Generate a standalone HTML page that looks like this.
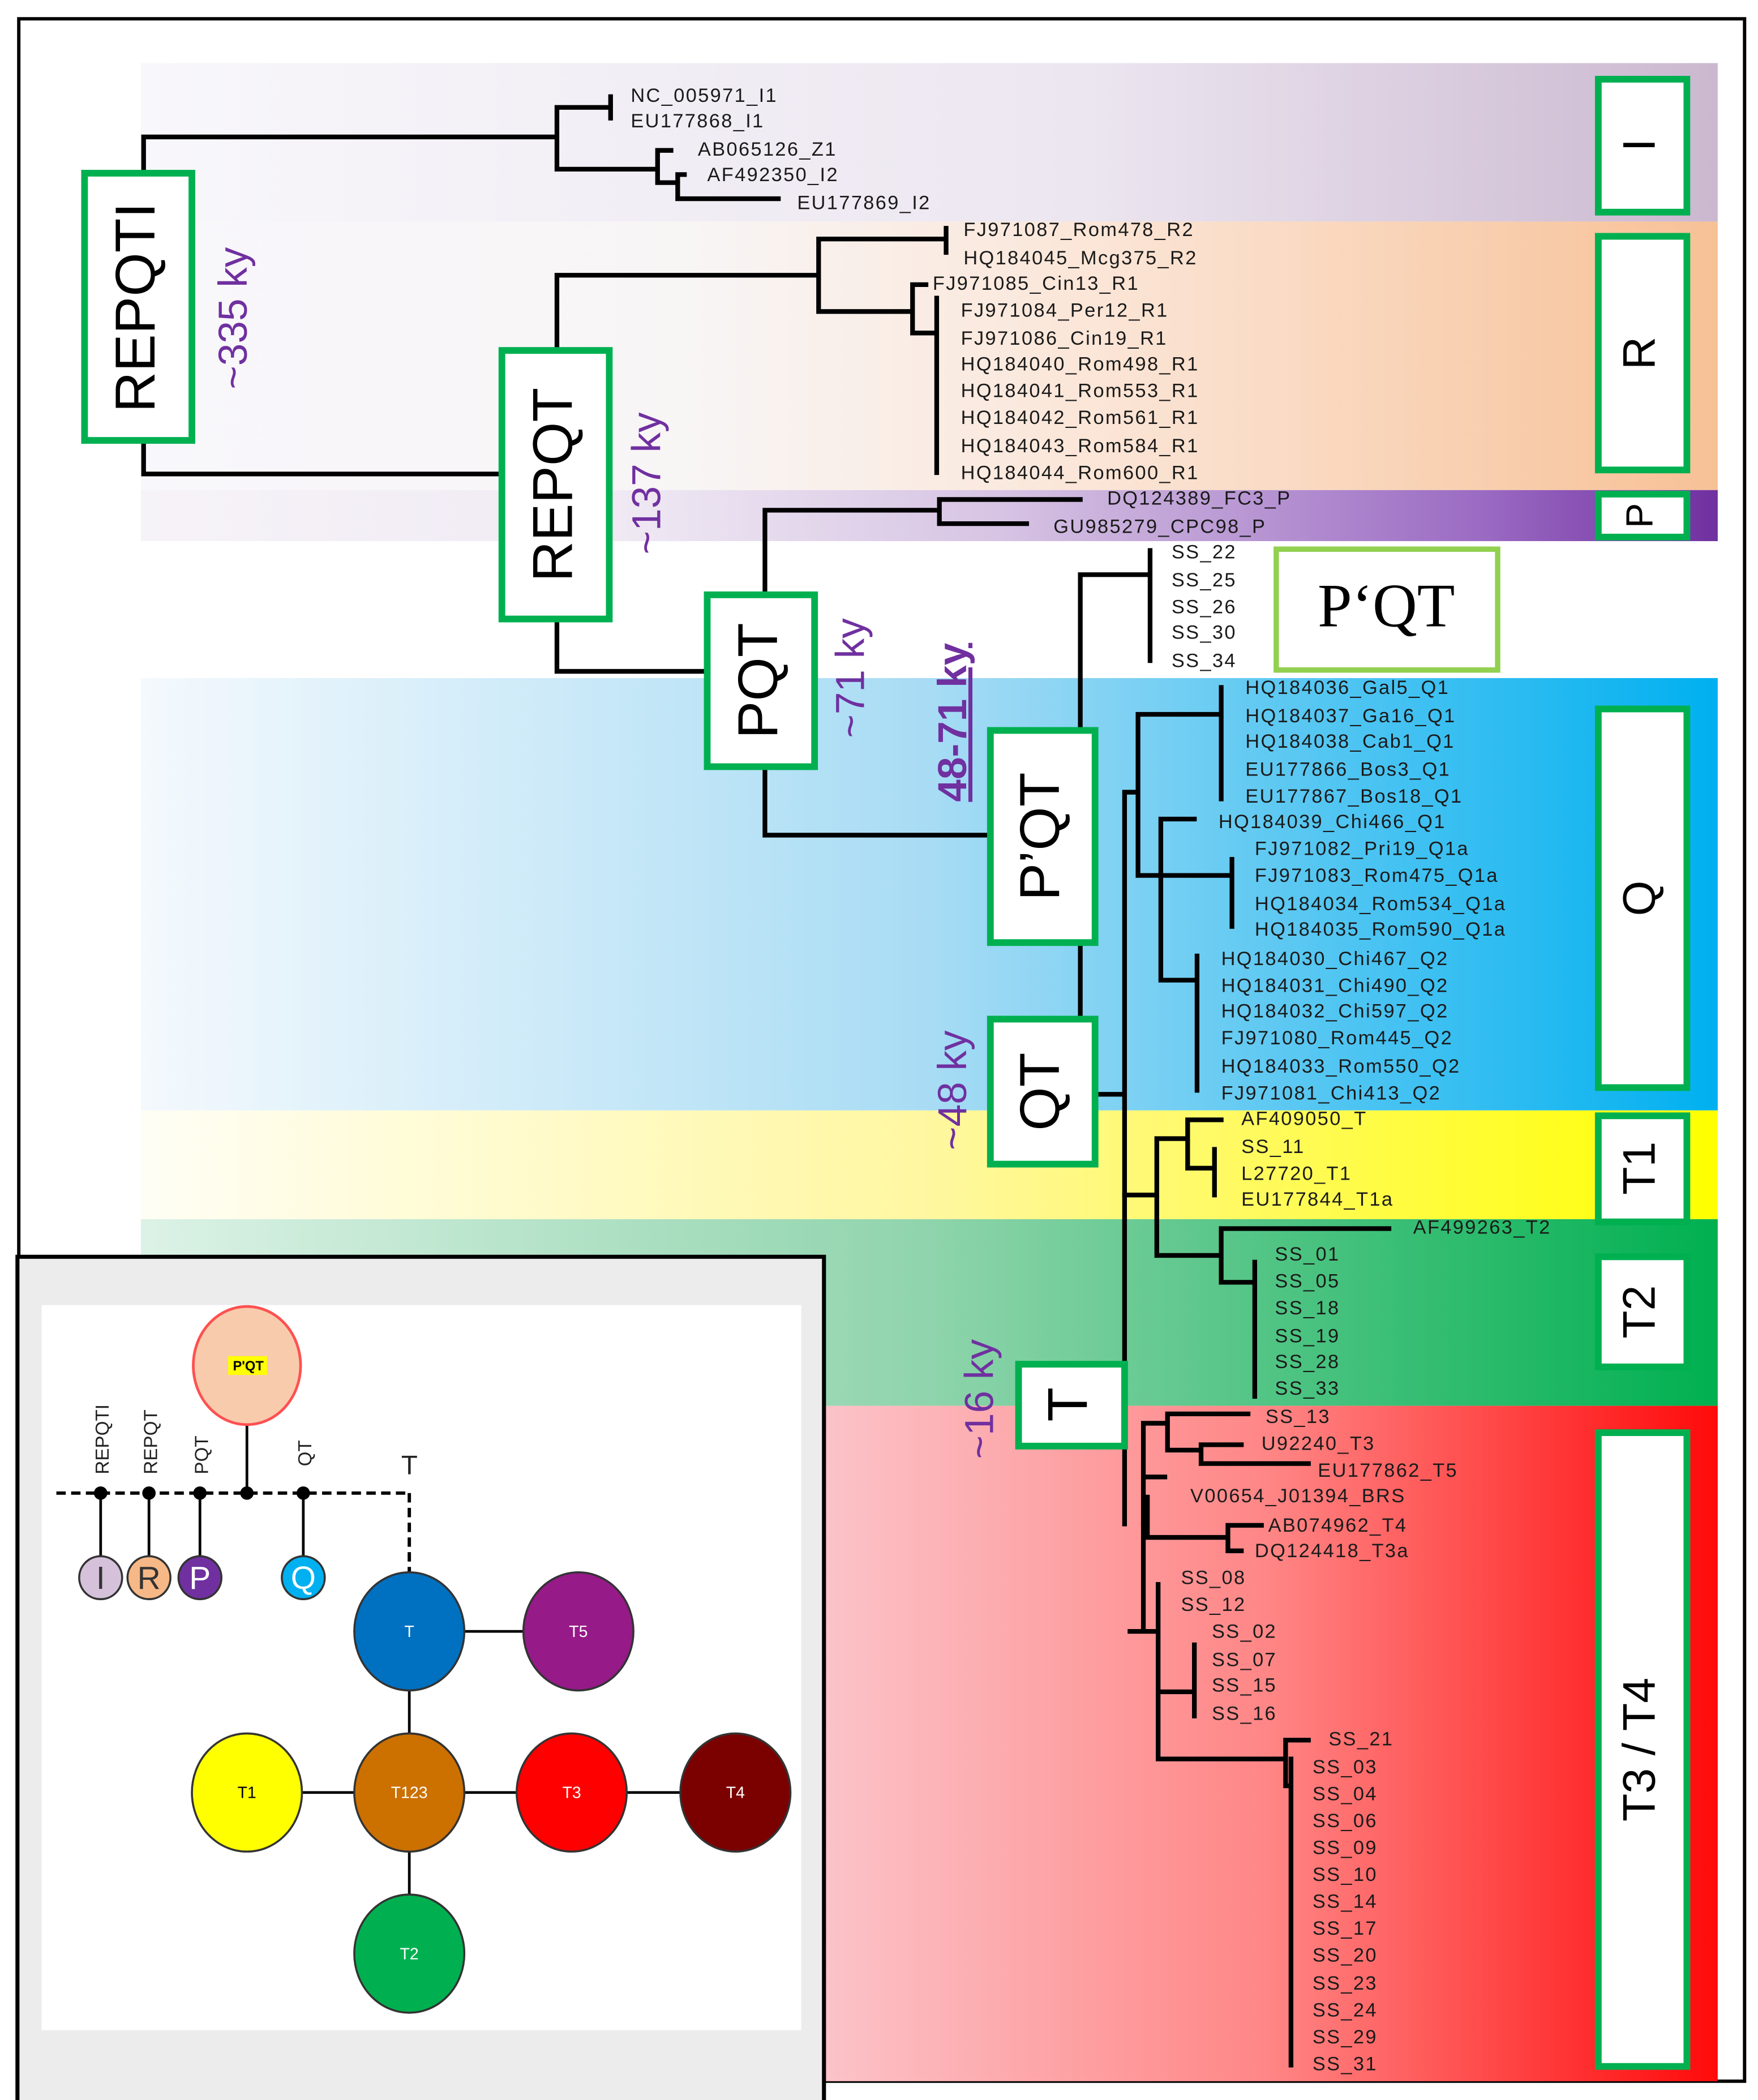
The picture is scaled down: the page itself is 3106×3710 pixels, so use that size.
<!DOCTYPE html>
<html><head><meta charset="utf-8"><style>
html,body{margin:0;padding:0;background:#fff;}
svg{display:block;}
.t{font-family:"Liberation Sans",sans-serif;font-size:14.5px;fill:#1a1a1a;letter-spacing:1px;dominant-baseline:middle;}
.b{font-family:"Liberation Sans",sans-serif;fill:#000;text-anchor:middle;dominant-baseline:middle;}
.k{font-family:"Liberation Sans",sans-serif;fill:#7030a0;text-anchor:middle;dominant-baseline:middle;font-size:30px;}
.ln{stroke:#000;stroke-width:3.5;fill:none;stroke-linecap:square;}
.gb{fill:#fff;stroke:#00b050;stroke-width:5;}
</style></head><body>
<svg width="3106" height="3710" viewBox="0 0 1310 1564" preserveAspectRatio="none" xmlns="http://www.w3.org/2000/svg">
<defs>
<linearGradient id="gI" x1="0" x2="1"><stop offset="0" stop-color="#f8f7fb"/><stop offset="0.6" stop-color="#ece6f0"/><stop offset="1" stop-color="#cbb8d0"/></linearGradient>
<linearGradient id="gR" x1="0" x2="1"><stop offset="0" stop-color="#f8f7fb"/><stop offset="0.35" stop-color="#f8f5f5"/><stop offset="0.6" stop-color="#fbe6d8"/><stop offset="1" stop-color="#f7c196"/></linearGradient>
<linearGradient id="gP" x1="0" x2="1"><stop offset="0" stop-color="#f6f3f8"/><stop offset="0.3" stop-color="#f0eaf4"/><stop offset="0.55" stop-color="#d6c3e3"/><stop offset="0.85" stop-color="#9b6bc3"/><stop offset="1" stop-color="#7030a0"/></linearGradient>
<linearGradient id="gQ" x1="0" x2="1"><stop offset="0" stop-color="#f4f9fd"/><stop offset="0.5" stop-color="#a8dcf4"/><stop offset="1" stop-color="#00b0f0"/></linearGradient>
<linearGradient id="gT1" x1="0" x2="1"><stop offset="0" stop-color="#fffef5"/><stop offset="0.5" stop-color="#fff7a0"/><stop offset="1" stop-color="#ffff00"/></linearGradient>
<linearGradient id="gT2" x1="0" x2="1"><stop offset="0" stop-color="#dcf2e6"/><stop offset="0.5" stop-color="#8fd4ac"/><stop offset="1" stop-color="#00b050"/></linearGradient>
<linearGradient id="gT3" x1="0" x2="1"><stop offset="0" stop-color="#fbc3c8"/><stop offset="0.5" stop-color="#ff8585"/><stop offset="1" stop-color="#ff0a0a"/></linearGradient>
</defs>
<rect x="14" y="14" width="1286" height="1536" fill="#fff" stroke="#000" stroke-width="2.5"/>
<rect x="105" y="47" width="1175" height="118" fill="url(#gI)"/>
<rect x="105" y="165" width="1175" height="200" fill="url(#gR)"/>
<rect x="105" y="365" width="1175" height="38" fill="url(#gP)"/>
<rect x="105" y="505" width="1175" height="322" fill="url(#gQ)"/>
<rect x="105" y="827" width="1175" height="81" fill="url(#gT1)"/>
<rect x="105" y="908" width="1175" height="139" fill="url(#gT2)"/>
<rect x="615" y="1047" width="665" height="503" fill="url(#gT3)"/>

<g class="ln">
<path d="M107 128 V102 H415 V126 H490 V112 H500 M415 102 V80 H455 M455 72 V88 M490 126 V136 H505 V130 H510 M505 136 V148 H580"/>
<path d="M107 328 V353 H373"/>
<path d="M415 260 V205 H610 V178 H705 M705 170 V188 M610 205 V232 H680 V212 H690 M680 232 V248 H698 M698 222 V352"/>
<path d="M415 462 V500 H526"/>
<path d="M570 442 V380 H700 V372 H805 M700 380 V390 H765"/>
<path d="M570 572 V622 H737"/>
<path d="M805 543 V428 H857 M857 410 V492"/>
<path d="M805 703 V758"/>
<path d="M816 815 H838 M838 1015 V590 H848 V532 H910 M910 512 V595 M848 590 V652 H918 M918 640 V690 M865 652 V610 H890 M865 652 V730 H892 M892 712 V812"/>
<path d="M838 890 H862 V848 H885 V834 H910 M885 848 V870 H905 M905 856 V890 M862 890 V935 H910 V915 H1035 M910 935 V955 H935 M935 940 V1040"/>
<path d="M838 1077 V1135 M852 1135 V1060 H870 V1053 H930 M870 1060 V1080 H895 V1076 H925 M895 1080 V1090 H975 M852 1100 H868 M855 1115 V1145 H915 V1136 H940 M915 1145 V1155 H925"/>
<path d="M852 1135 V1215 H863 V1180 M863 1200 V1310 H958 V1296 H975 M958 1310 V1330 H962 M962 1310 V1538 M865 1260 H890 M890 1225 V1278 M842 1215 H852"/>
</g>

<g class="t">
<text x="470" y="72">NC_005971_I1</text><text x="470" y="91">EU177868_I1</text><text x="520" y="112">AB065126_Z1</text><text x="527" y="131">AF492350_I2</text><text x="594" y="152">EU177869_I2</text>
<text x="718" y="172">FJ971087_Rom478_R2</text><text x="718" y="193">HQ184045_Mcg375_R2</text><text x="695" y="212">FJ971085_Cin13_R1</text><text x="716" y="232">FJ971084_Per12_R1</text><text x="716" y="253">FJ971086_Cin19_R1</text><text x="716" y="272">HQ184040_Rom498_R1</text><text x="716" y="292">HQ184041_Rom553_R1</text><text x="716" y="312">HQ184042_Rom561_R1</text><text x="716" y="333">HQ184043_Rom584_R1</text><text x="716" y="353">HQ184044_Rom600_R1</text>
<text x="825" y="372">DQ124389_FC3_P</text><text x="785" y="393">GU985279_CPC98_P</text>
<text x="873" y="412">SS_22</text><text x="873" y="433">SS_25</text><text x="873" y="453">SS_26</text><text x="873" y="472">SS_30</text><text x="873" y="493">SS_34</text>
<text x="928" y="513">HQ184036_Gal5_Q1</text><text x="928" y="534">HQ184037_Ga16_Q1</text><text x="928" y="553">HQ184038_Cab1_Q1</text><text x="928" y="574">EU177866_Bos3_Q1</text><text x="928" y="594">EU177867_Bos18_Q1</text><text x="908" y="613">HQ184039_Chi466_Q1</text><text x="935" y="633">FJ971082_Pri19_Q1a</text><text x="935" y="653">FJ971083_Rom475_Q1a</text><text x="935" y="674">HQ184034_Rom534_Q1a</text><text x="935" y="693">HQ184035_Rom590_Q1a</text>
<text x="910" y="715">HQ184030_Chi467_Q2</text><text x="910" y="735">HQ184031_Chi490_Q2</text><text x="910" y="754">HQ184032_Chi597_Q2</text><text x="910" y="774">FJ971080_Rom445_Q2</text><text x="910" y="795">HQ184033_Rom550_Q2</text><text x="910" y="815">FJ971081_Chi413_Q2</text>
<text x="925" y="834">AF409050_T</text><text x="925" y="855">SS_11</text><text x="925" y="875">L27720_T1</text><text x="925" y="894">EU177844_T1a</text>
<text x="1053" y="915">AF499263_T2</text><text x="950" y="935">SS_01</text><text x="950" y="955">SS_05</text><text x="950" y="975">SS_18</text><text x="950" y="996">SS_19</text><text x="950" y="1015">SS_28</text><text x="950" y="1035">SS_33</text>
<text x="943" y="1056">SS_13</text><text x="940" y="1076">U92240_T3</text><text x="982" y="1096">EU177862_T5</text><text x="887" y="1115">V00654_J01394_BRS</text><text x="945" y="1137">AB074962_T4</text><text x="935" y="1156">DQ124418_T3a</text>
<text x="880" y="1176">SS_08</text><text x="880" y="1196">SS_12</text><text x="903" y="1216">SS_02</text><text x="903" y="1237">SS_07</text><text x="903" y="1256">SS_15</text><text x="903" y="1277">SS_16</text>
<text x="990" y="1296">SS_21</text><text x="978" y="1317">SS_03</text><text x="978" y="1337">SS_04</text><text x="978" y="1357">SS_06</text><text x="978" y="1377">SS_09</text><text x="978" y="1397">SS_10</text><text x="978" y="1417">SS_14</text><text x="978" y="1437">SS_17</text><text x="978" y="1457">SS_20</text><text x="978" y="1478">SS_23</text><text x="978" y="1498">SS_24</text><text x="978" y="1518">SS_29</text><text x="978" y="1538">SS_31</text>
</g>

<rect class="gb" x="63" y="129" width="80" height="199"/><text class="b" font-size="42" transform="translate(104,229) rotate(-90)">REPQTI</text>
<rect class="gb" x="374" y="261" width="80" height="200"/><text class="b" font-size="42" transform="translate(415,361) rotate(-90)">REPQT</text>
<rect class="gb" x="527" y="443" width="80" height="128"/><text class="b" font-size="42" transform="translate(568,507) rotate(-90)">PQT</text>
<rect class="gb" x="738" y="544" width="78" height="158"/><text class="b" font-size="42" transform="translate(778,623) rotate(-90)">P’QT</text>
<rect class="gb" x="738" y="759" width="78" height="108"/><text class="b" font-size="42" transform="translate(778,813) rotate(-90)">QT</text>
<rect class="gb" x="759" y="1016" width="79" height="61"/><text class="b" font-size="42" transform="translate(799,1046) rotate(-90)">T</text>
<rect x="951" y="409" width="165" height="90" fill="#fff" stroke="#92d050" stroke-width="4"/><text class="b" x="1033" y="456" font-size="46" style="font-family:'Liberation Serif',serif">P‘QT</text>

<text class="k" transform="translate(176,237) rotate(-90)">~335 ky</text>
<text class="k" transform="translate(484,360) rotate(-90)">~137 ky</text>
<text class="k" transform="translate(636,505) rotate(-90)">~71 ky</text>
<text class="k" transform="translate(712,538) rotate(-90)" font-weight="bold" text-decoration="underline">48-71 ky</text>
<text class="k" transform="translate(712,812) rotate(-90)">~48 ky</text>
<text class="k" transform="translate(732,1042) rotate(-90)">~16 ky</text>

<rect class="gb" x="1191" y="59" width="66" height="99"/><text class="b" font-size="34" transform="translate(1224,108) rotate(-90)">I</text>
<rect class="gb" x="1191" y="176" width="66" height="174"/><text class="b" font-size="34" transform="translate(1224,263) rotate(-90)">R</text>
<rect class="gb" x="1191" y="368" width="66" height="32"/><text class="b" font-size="28" transform="translate(1224,384) rotate(-90)">P</text>
<rect class="gb" x="1191" y="528" width="66" height="282"/><text class="b" font-size="34" transform="translate(1224,669) rotate(-90)">Q</text>
<rect class="gb" x="1191" y="831" width="66" height="79"/><text class="b" font-size="34" transform="translate(1224,870) rotate(-90)">T1</text>
<rect class="gb" x="1191" y="936" width="66" height="82"/><text class="b" font-size="34" transform="translate(1224,977) rotate(-90)">T2</text>
<rect class="gb" x="1191" y="1067" width="66" height="472"/><text class="b" font-size="34" transform="translate(1224,1303) rotate(-90)">T3 / T4</text>

<rect x="13" y="936" width="601" height="630" fill="#ececec" stroke="#000" stroke-width="3"/>
<rect x="31" y="972" width="566" height="540" fill="#fff"/>
<line x1="42" y1="1112" x2="305" y2="1112" stroke="#000" stroke-width="2.5" stroke-dasharray="7,4"/>
<line x1="305" y1="1112" x2="305" y2="1172" stroke="#000" stroke-width="2.5" stroke-dasharray="7,4"/>
<g stroke="#000" stroke-width="2">
<line x1="75" y1="1112" x2="75" y2="1160"/><line x1="111" y1="1112" x2="111" y2="1160"/><line x1="149" y1="1112" x2="149" y2="1160"/><line x1="226" y1="1112" x2="226" y2="1160"/><line x1="184" y1="1112" x2="184" y2="1060"/>
<line x1="305" y1="1215" x2="431" y2="1215"/><line x1="305" y1="1215" x2="305" y2="1455"/><line x1="184" y1="1335" x2="548" y2="1335"/>
</g>
<g fill="#000"><circle cx="75" cy="1112" r="5"/><circle cx="111" cy="1112" r="5"/><circle cx="149" cy="1112" r="5"/><circle cx="184" cy="1112" r="5"/><circle cx="226" cy="1112" r="5"/></g>
<g stroke="#333" stroke-width="1.5">
<circle cx="75" cy="1175" r="16" fill="#d5c1da"/><circle cx="111" cy="1175" r="16" fill="#f6b886"/><circle cx="149" cy="1175" r="16" fill="#7030a0"/><circle cx="226" cy="1175" r="16" fill="#00b0f0"/>
<ellipse cx="305" cy="1215" rx="41" ry="44" fill="#0070c0"/><ellipse cx="431" cy="1215" rx="41" ry="44" fill="#961a88"/>
<ellipse cx="184" cy="1335" rx="41" ry="44" fill="#ffff00"/><ellipse cx="305" cy="1335" rx="41" ry="44" fill="#cc7000"/><ellipse cx="426" cy="1335" rx="41" ry="44" fill="#ff0000"/><ellipse cx="548" cy="1335" rx="41" ry="44" fill="#7b0000"/>
<ellipse cx="305" cy="1455" rx="41" ry="44" fill="#00b050"/>
</g>
<ellipse cx="184" cy="1017" rx="40" ry="44" fill="#f8cbad" stroke="#ff5050" stroke-width="2"/>
<rect x="170" y="1010" width="29" height="14" fill="#ffff00"/>
<text class="b" x="185" y="1018" font-size="10" font-weight="bold">P'QT</text>
<g class="b" font-size="24"><text x="75" y="1177" fill="#333">I</text><text x="111" y="1177" fill="#333">R</text><text x="149" y="1177" fill="#fff">P</text><text x="226" y="1177" fill="#fff">Q</text></g>
<g class="b" font-size="12"><text x="305" y="1216" fill="#fff">T</text><text x="431" y="1216" fill="#fff">T5</text><text x="184" y="1336" fill="#000">T1</text><text x="305" y="1336" fill="#fff">T123</text><text x="426" y="1336" fill="#fff">T3</text><text x="548" y="1336" fill="#fff">T4</text><text x="305" y="1456" fill="#fff">T2</text></g>
<g font-size="14" fill="#222" style="font-family:'Liberation Sans',sans-serif">
<text transform="translate(81,1098) rotate(-90)">REPQTI</text><text transform="translate(117,1098) rotate(-90)">REPQT</text><text transform="translate(155,1098) rotate(-90)">PQT</text><text transform="translate(232,1092) rotate(-90)">QT</text>
<text x="299" y="1098" font-size="20">T</text>
</g>
</svg>
</body></html>
